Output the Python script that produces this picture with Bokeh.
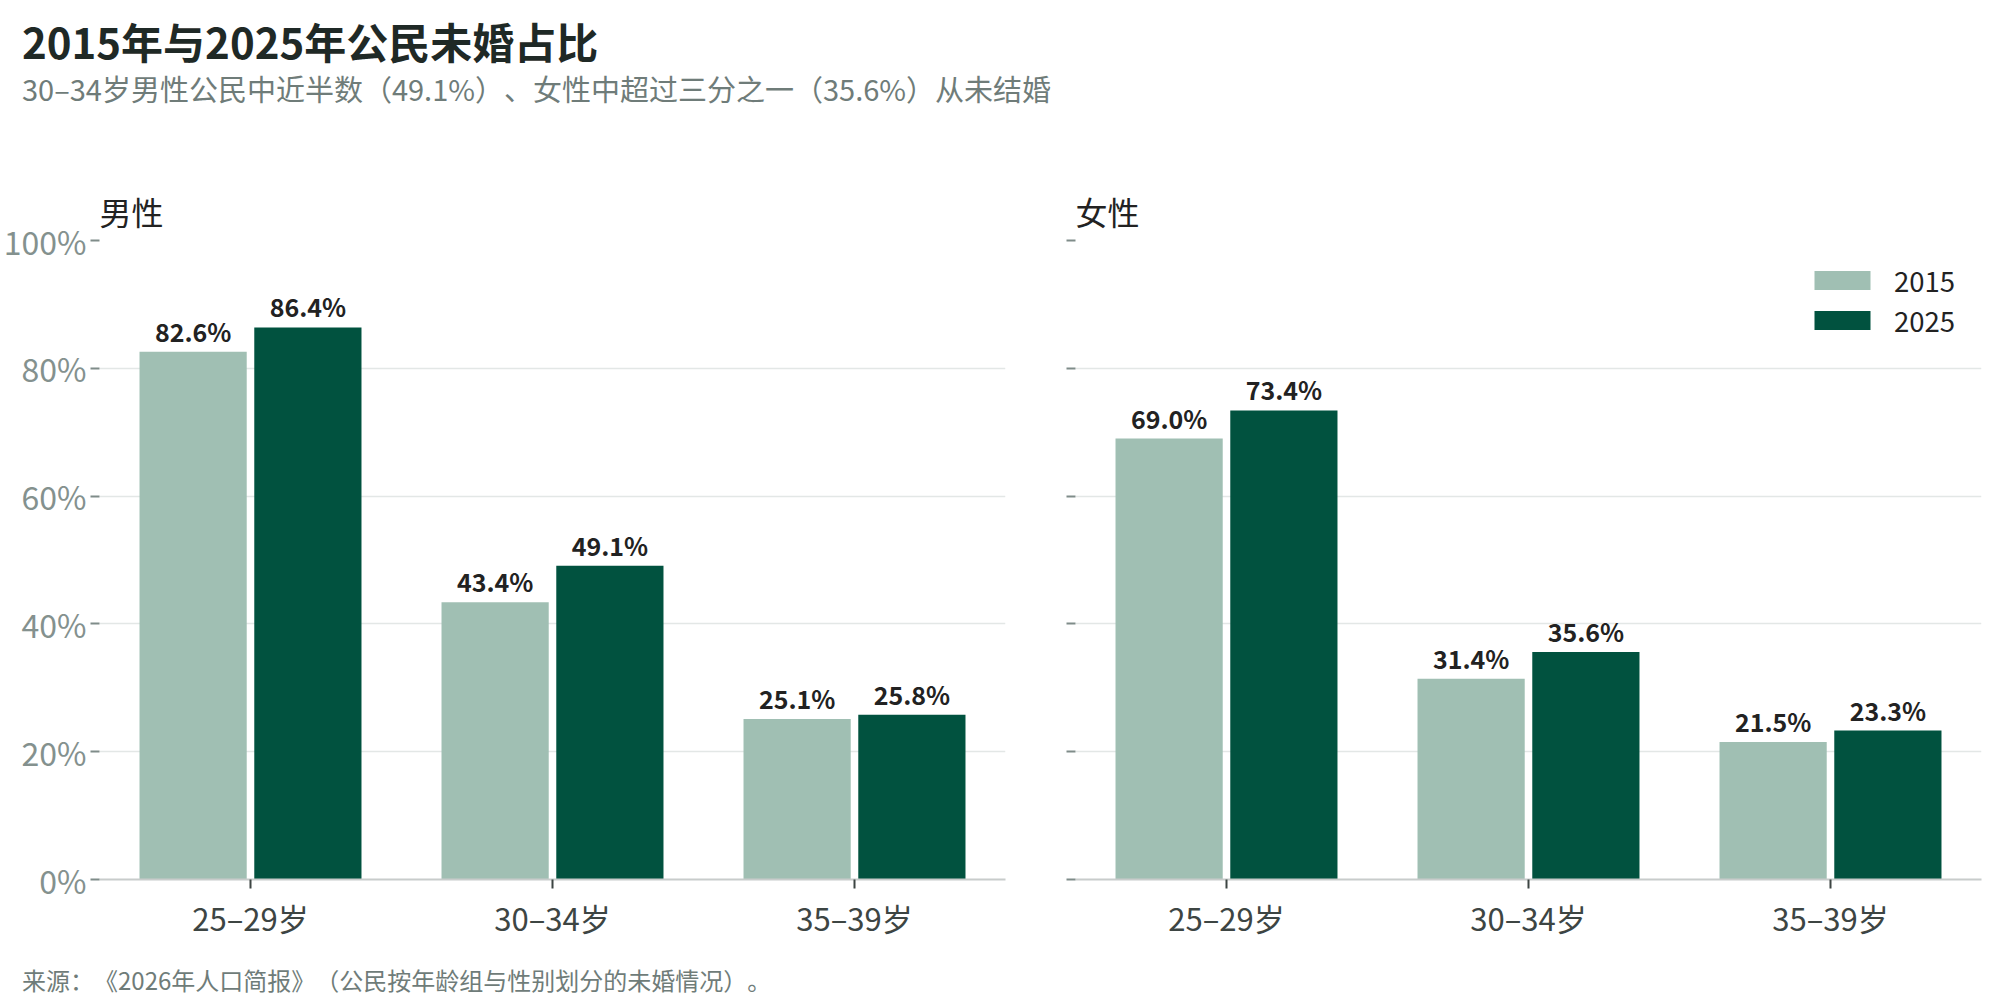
from bokeh.embed import file_html
from bokeh.resources import INLINE
from bokeh.plotting import figure
from bokeh.models import (ColumnDataSource, Div, Range1d, FactorRange,
                          PrintfTickFormatter, CustomJSTickFormatter, FixedTicker)
from bokeh.layouts import column, row
from bokeh.transform import dodge

ages = ["25–29岁", "30–34岁", "35–39岁"]
male_2015 = [82.6, 43.4, 25.1]
male_2025 = [86.4, 49.1, 25.8]
female_2015 = [69.0, 31.4, 21.5]
female_2025 = [73.4, 35.6, 23.3]
y_ticks = [0, 20, 40, 60, 80, 100]

FONT = "Noto Sans CJK SC"
C15 = "#a0bfb3"
C25 = "#01523f"


def panel(title, v15, v25, first):
    src = ColumnDataSource(dict(
        age=ages, v15=v15, v25=v25,
        t15=[f"{v:.1f}%" for v in v15],
        t25=[f"{v:.1f}%" for v in v25],
    ))
    p = figure(x_range=FactorRange(*ages), y_range=Range1d(0, 100),
               frame_width=906, frame_height=639,
               min_border_top=110, min_border_bottom=71,
               min_border_left=93 if first else 50,
               min_border_right=20 if first else 1,
               output_backend="svg", toolbar_location=None,
               outline_line_color=None, background_fill_color="white")
    p.x_range.range_padding = 0

    p.title.text = title
    p.title.text_font = FONT
    p.title.text_font_size = "32px"
    p.title.text_font_style = "normal"
    p.title.text_color = "#222"
    p.title.align = "left"
    p.title.offset = 0
    p.title.standoff = 14

    p.vbar(x=dodge("age", -0.19, range=p.x_range), top="v15", width=0.355,
           source=src, fill_color=C15, line_color=None, legend_label="2015")
    p.vbar(x=dodge("age", 0.19, range=p.x_range), top="v25", width=0.355,
           source=src, fill_color=C25, line_color=None, legend_label="2025")

    # value labels above the bars
    for col, off in (("15", -0.19), ("25", 0.19)):
        p.text(x=dodge("age", off, range=p.x_range), y="v" + col, text="t" + col,
               source=src, text_align="center", text_baseline="alphabetic",
               y_offset=-21, text_font_size="25px", text_font_style="bold",
               text_color="#222", text_font={"value": FONT})

    # axes
    p.xgrid.grid_line_color = None
    p.ygrid.grid_line_color = "#e3e7e6"
    p.ygrid.grid_line_width = 1.5
    p.yaxis.ticker = FixedTicker(ticks=y_ticks)
    p.yaxis.axis_line_color = None
    p.yaxis.major_tick_in = 0
    p.yaxis.major_tick_out = 9
    p.yaxis.major_tick_line_width = 2
    p.yaxis.major_tick_line_color = "#7f8c89"
    p.yaxis.minor_tick_line_color = None
    p.yaxis.major_label_text_font = FONT
    p.yaxis.major_label_text_font_size = "32px"
    p.yaxis.major_label_text_color = "#84918e"
    p.yaxis.major_label_standoff = 4
    if first:
        p.yaxis.formatter = PrintfTickFormatter(format="%d%%")
    else:
        p.yaxis.formatter = CustomJSTickFormatter(code="return ''")

    p.xaxis.axis_line_color = "#c8cccb"
    p.xaxis.axis_line_width = 2
    p.xaxis.major_tick_in = 0
    p.xaxis.major_tick_out = 9
    p.xaxis.major_tick_line_width = 2
    p.xaxis.major_tick_line_color = "#3d4543"
    p.xaxis.major_label_text_font = FONT
    p.xaxis.major_label_text_font_size = "31px"
    p.xaxis.major_label_text_color = "#3d4543"
    p.xaxis.major_label_standoff = 6

    if first:
        p.legend.visible = False
    else:
        lg = p.legend[0]
        lg.location = "top_right"
        lg.border_line_color = None
        lg.background_fill_alpha = 0
        lg.label_text_font = FONT
        lg.label_text_font_size = "27.5px"
        lg.label_text_color = "#222"
        lg.glyph_width = 70
        lg.glyph_height = 24
        lg.label_standoff = 17
        lg.label_width = 67
        lg.spacing = 0
        lg.margin = 20
        lg.padding = 10
    return p


left = panel("男性", male_2015, male_2025, True)
right = panel("女性", female_2015, female_2025, False)

head = Div(text=(
    f'<div style="font-family:\'{FONT}\';padding:16px 0 0 22px;text-spacing-trim:space-all;">'
    '<div style="font-size:42px;font-weight:bold;color:#1f2926;line-height:50px;">'
    '2015年与2025年公民未婚占比</div>'
    '<div style="font-size:29px;color:#6f7c79;line-height:36px;margin-top:4px;">'
    '30–34岁男性公民中近半数（49.1%）、女性中超过三分之一（35.6%）从未结婚</div>'
    '</div>'), width=1982, height=130, margin=(0, 0, 0, 0))

foot = Div(text=(
    f'<div style="font-family:\'{FONT}\';font-size:24px;color:#6f7c79;'
    'padding:16px 0 0 22px;line-height:28px;text-spacing-trim:space-all;">'
    '来源：《2026年人口简报》（公民按年龄组与性别划分的未婚情况）。</div>'),
    width=1982, height=42, margin=(0, 0, 0, 0))

p = column(head, row(left, right, spacing=0), foot, spacing=0)

open("out.html", "w").write(file_html(p, INLINE))
